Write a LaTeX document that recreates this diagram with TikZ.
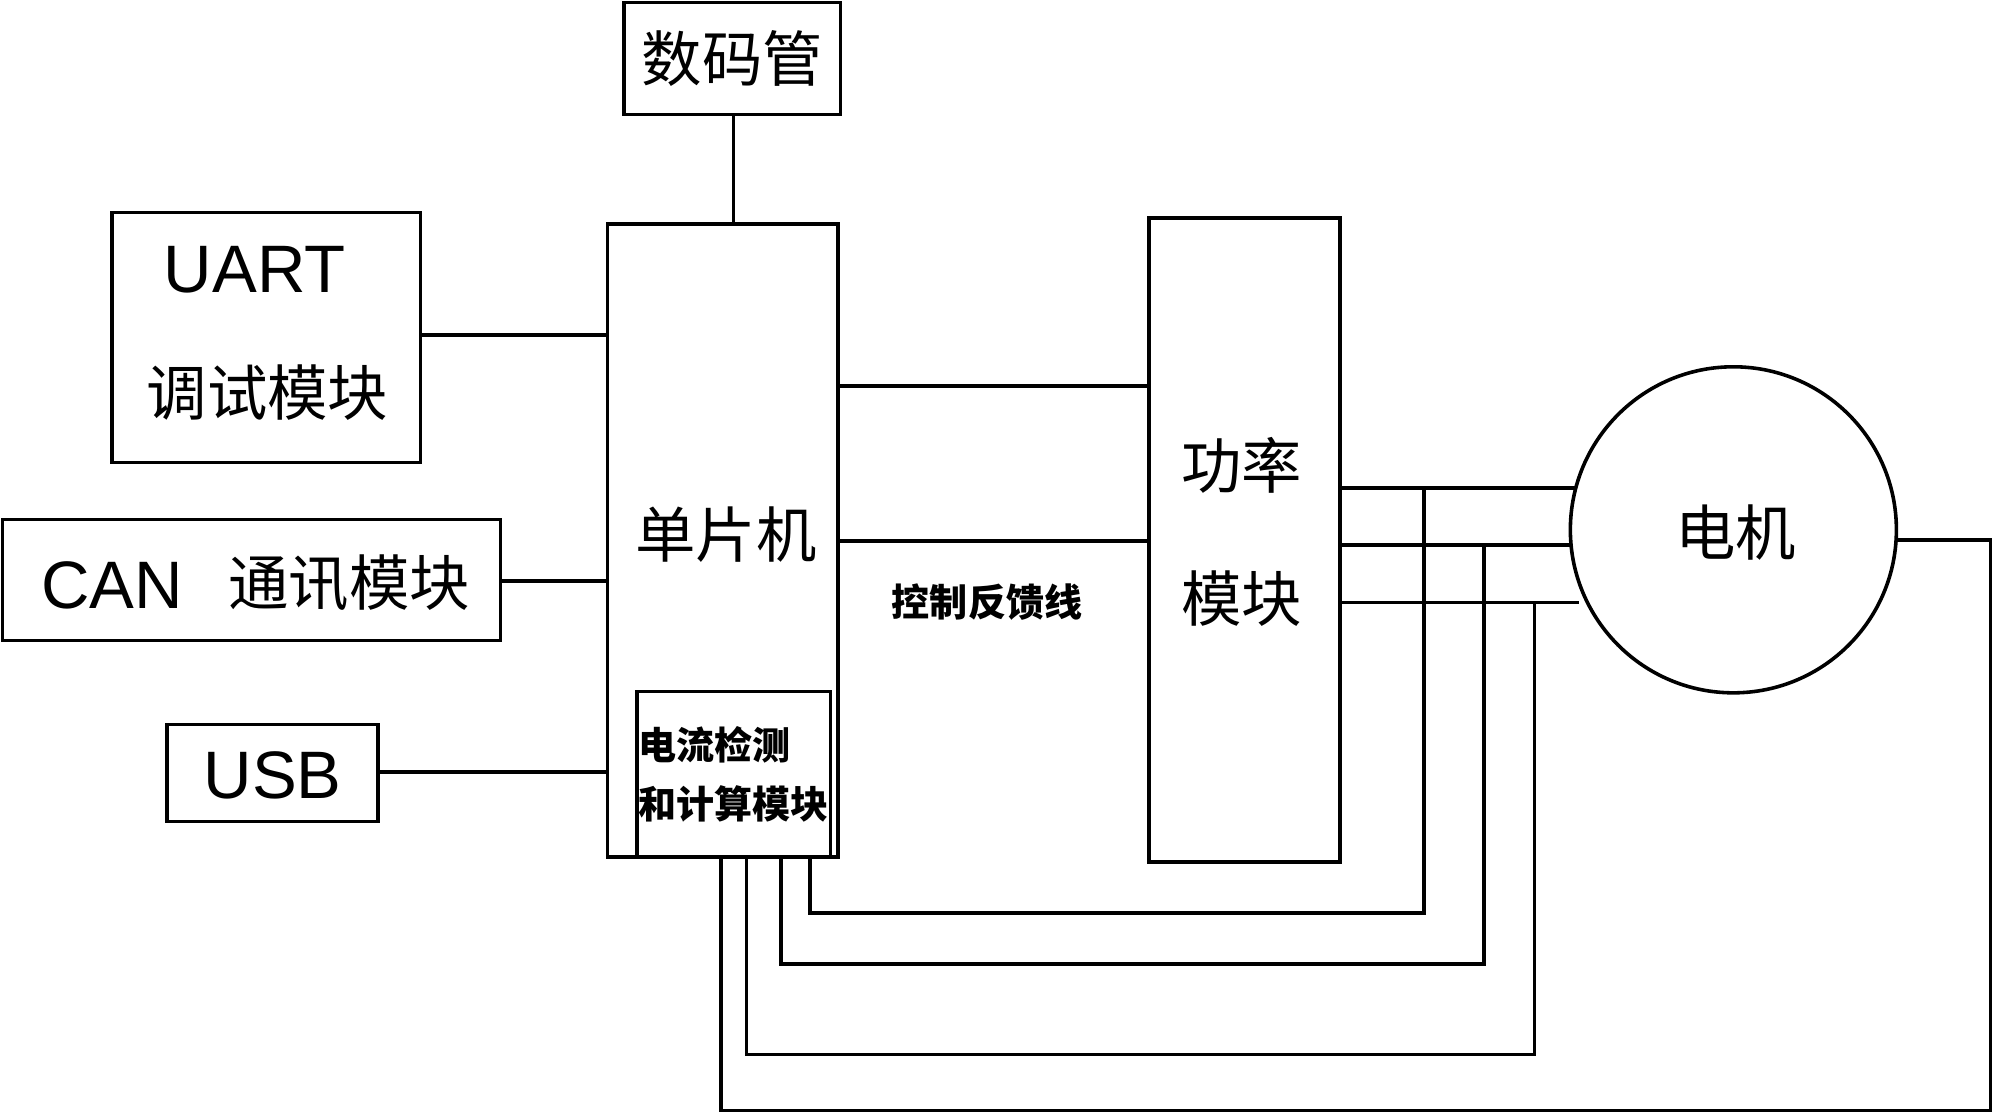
\documentclass[tikz,border=0pt]{standalone}
\usepackage{fontspec}
\setmainfont{Liberation Sans}
\newfontfamily\cjk{Noto Sans CJK SC}
\begin{document}
\begin{tikzpicture}[x=0.02cm,y=-0.02cm,line width=1.6pt,
  box/.style={draw,line width=1.6pt},
  big/.style={font=\cjk\fontsize{27}{30}\selectfont},
  lat/.style={font=\fontsize{30}{32}\selectfont},
  small/.style={font=\cjk\bfseries\fontsize{17}{26}\selectfont}]
\useasboundingbox (0,0) rectangle (1568,878);
\draw[box] (490,2) rectangle (660,90); \node[big] (smg) at (575,46) {数码管};
\draw[box] (477,176) rectangle (658,673);
\coordinate (mcuT) at (576,176);
\draw (576,90) -- (mcuT);
\node[big] (mcu) at (570,420) {单片机};
\draw[box] (88,167) rectangle (330,363);
\node[lat] (uart) at (200,212) {UART};
\node[big] (ts) at (210,308) {调试模块};
\draw (330,263) -- (477,263);
\draw[box] (2,408) rectangle (393,503);
\node[lat,anchor=west] (can) at (25,460) {CAN};
\node[big,anchor=west] (cantx) at (172,458) {通讯模块};
\draw (393,456) -- (477,456);
\draw[box] (131,569) rectangle (297,645);
\node[lat] (usb) at (214,609) {USB};
\draw (297,606) -- (477,606);
\draw[box] (500,543) rectangle (652,673);
\node[small,align=left] (det) at (576,608) {电流检测\\和计算模块};
\draw[box] (902,171) rectangle (1052,677);
\node[big] (gl) at (975,365) {功率};
\node[big] (mk) at (975,470) {模块};
\draw (658,303) -- (902,303);
\draw (658,425) -- (902,425);
\node[small] (fb) at (775,473) {控制反馈线};
\draw (1361,416) circle (128);
\node[big] (dj) at (1363,418) {电机};
\draw (1052,383) -- (1238,383);
\draw (1052,428) -- (1233,428);
\draw (1052,473) -- (1240,473);
\draw (1118,383) -- (1118,717) -- (636,717) -- (636,673);
\draw (1165,428) -- (1165,757) -- (613,757) -- (613,673);
\draw (1205,473) -- (1205,828) -- (586,828) -- (586,673);
\draw (1489,424) -- (1563,424) -- (1563,872) -- (566,872) -- (566,673);
\end{tikzpicture}
\end{document}
